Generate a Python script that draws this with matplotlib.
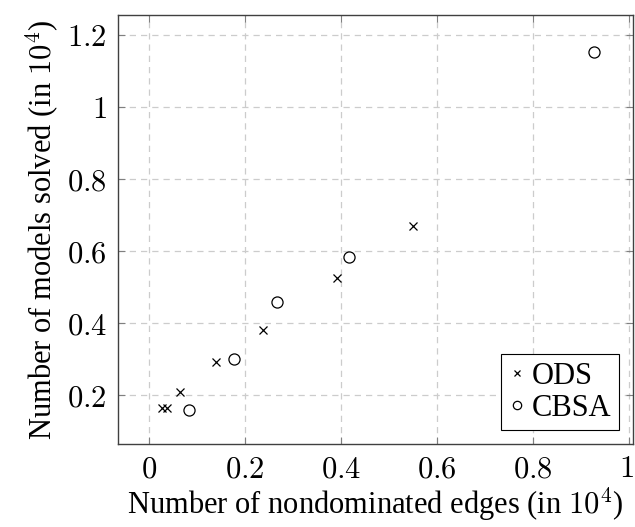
import matplotlib
matplotlib.use("Agg")
import matplotlib.pyplot as plt
import matplotlib.transforms as mtransforms
from matplotlib.ticker import FuncFormatter

plt.rcParams['mathtext.fontset'] = 'cm'
plt.rcParams['font.family'] = ['Liberation Serif', 'DejaVu Serif']

ods_x = [0.027, 0.037, 0.065, 0.140, 0.237, 0.392, 0.550]
ods_y = [0.163, 0.163, 0.208, 0.2925, 0.381, 0.524, 0.670]
cbsa_x = [0.083, 0.176, 0.266, 0.416, 0.927]
cbsa_y = [0.158, 0.299, 0.458, 0.584, 1.154]
xticks = [0, 0.2, 0.4, 0.6, 0.8, 1]
yticks = [0.2, 0.4, 0.6, 0.8, 1, 1.2]

fig = plt.figure(figsize=(6.35, 5.27), dpi=100)
ax = fig.add_axes([118/635, 1-444/527, 515/635, 429/527])

ax.plot(ods_x, ods_y, linestyle='none', marker='x', ms=5.5, mew=0.9, color='black', label='ODS')
ax.plot(cbsa_x, cbsa_y, linestyle='none', marker='o', ms=8, mew=0.9, mfc='none', mec='black', label='CBSA')

ax.set_xlim(-0.065, 1.008)
ax.set_ylim(0.064, 1.2556)
ax.set_xticks(xticks)
ax.set_yticks(yticks)
fmt = FuncFormatter(lambda v, p: r'$%g$' % v)
ax.xaxis.set_major_formatter(fmt)
ax.yaxis.set_major_formatter(fmt)
ax.tick_params(direction='in', top=True, right=True, length=5, width=0.8, color='#808080', labelsize=22, pad=8)
ax.grid(True, linestyle=(0, (5, 4)), color='#cccccc', linewidth=0.9)
ax.set_axisbelow(True)
for s in ax.spines.values():
    s.set_color('#404040')
    s.set_linewidth(1.0)

last = ax.xaxis.get_major_ticks()[-1].label1
last.set_transform(last.get_transform() + mtransforms.ScaledTranslation(-3/100, 0, fig.dpi_scale_trans))

ax.set_xlabel(r'Number of nondominated edges (in $10^4$)', fontsize=22, labelpad=1)
ax.set_ylabel(r'Number of models solved (in $10^4$)', fontsize=22, labelpad=4)

leg = ax.legend(loc='lower right', fontsize=22, frameon=True, fancybox=False, edgecolor='black',
                framealpha=1, borderpad=0.25, handlelength=0.5, handletextpad=0.25, labelspacing=0.1,
                borderaxespad=0.45, markerscale=0.75)
leg.get_frame().set_linewidth(0.8)

fig.savefig('out.png', dpi=100)
